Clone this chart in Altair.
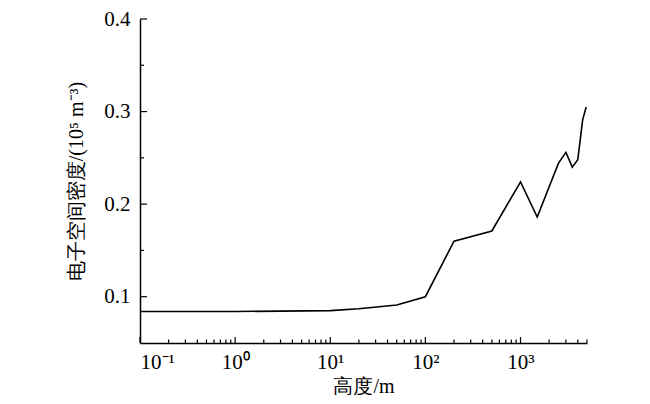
import altair as alt
import pandas as pd

# data
heights = [0.1, 1, 10, 20, 50, 100, 200, 500, 1000, 1500, 2500, 3000, 3500, 4000, 4500, 4900]
density = [0.084, 0.084, 0.085, 0.087, 0.091, 0.100, 0.160, 0.171, 0.224, 0.186,
           0.244, 0.256, 0.240, 0.248, 0.291, 0.305]

x_major = [0.1, 1, 10, 100, 1000]
x_labels = ["10⁻¹", "10⁰", "10¹", "10²", "10³"]
x_minor = [m * 10.0 ** e for e in range(-1, 4) for m in range(2, 10) if m * 10.0 ** e <= 5000]
y_major = [0.1, 0.2, 0.3, 0.4]
y_minor = [0.15, 0.25, 0.35]

FONT = "Liberation Serif"
W, H = 447, 324
X_TITLE = "高度/m"
Y_TITLE = "电子空间密度/(10⁵ m⁻³)"

label_expr = "".join(f"datum.value < {v * 3} ? '{l}' : " for v, l in zip(x_major, x_labels)) + "''"

xscale = alt.Scale(type="log", domain=[0.1, 5000], nice=False)
yscale = alt.Scale(domain=[0.05, 0.4], nice=False, zero=False)

xaxis = alt.Axis(values=x_major, labelExpr=label_expr, ticks=False, tickSize=0,
                 grid=False, domainColor="black", domainWidth=1.5,
                 labelFont=FONT, labelFontSize=21, labelColor="black",
                 labelPadding=8, titleFont=FONT, titleFontSize=20,
                 titleFontWeight="normal", titleColor="black", titlePadding=4)
yaxis = alt.Axis(values=y_major, format=".1f", ticks=False, tickSize=0,
                 grid=False, domainColor="black", domainWidth=1.5,
                 labelFont=FONT, labelFontSize=21, labelColor="black",
                 labelPadding=10, titleFont=FONT, titleFontSize=20,
                 titleFontWeight="normal", titleColor="black", titlePadding=17)

df = pd.DataFrame({"h": heights, "d": density})

line = alt.Chart(df).mark_line(color="black", strokeWidth=1.6).encode(
    x=alt.X("h:Q", scale=xscale, title=X_TITLE, axis=xaxis),
    y=alt.Y("d:Q", scale=yscale, title=Y_TITLE, axis=yaxis),
)

xmaj = alt.Chart(pd.DataFrame({"h": x_major})).mark_rule(color="black", strokeWidth=1.2).encode(
    x=alt.X("h:Q", scale=xscale, title=X_TITLE, axis=xaxis), y=alt.value(H), y2=alt.value(H - 6))
xmin = alt.Chart(pd.DataFrame({"h": x_minor})).mark_rule(color="black", strokeWidth=1.2).encode(
    x=alt.X("h:Q", scale=xscale, title=X_TITLE, axis=xaxis), y=alt.value(H), y2=alt.value(H - 3.5))
ymaj = alt.Chart(pd.DataFrame({"d": y_major})).mark_rule(color="black", strokeWidth=1.2).encode(
    y=alt.Y("d:Q", scale=yscale, title=Y_TITLE, axis=yaxis), x=alt.value(0), x2=alt.value(7))
ymin = alt.Chart(pd.DataFrame({"d": y_minor})).mark_rule(color="black", strokeWidth=1.2).encode(
    y=alt.Y("d:Q", scale=yscale, title=Y_TITLE, axis=yaxis), x=alt.value(0), x2=alt.value(4))

chart = alt.layer(line, xmaj, xmin, ymaj, ymin).properties(
    width=W, height=H,
    autosize=alt.AutoSizeParams(type="none"),
    padding={"left": 132, "top": 11, "right": 55, "bottom": 52},
).configure_view(stroke=None)

chart.save("out.html", embed_options={"renderer": "svg", "actions": False})
